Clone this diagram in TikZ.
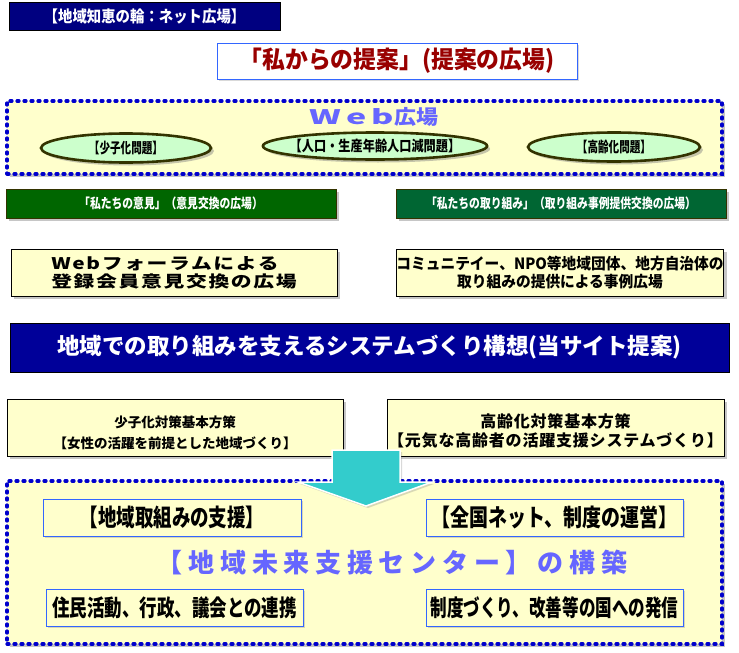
\documentclass[tikz,border=0pt]{standalone}
\usepackage{fontspec}
\usepackage{graphicx}
\setmainfont{Noto Sans CJK JP}
\usetikzlibrary{shapes.geometric,shadows}
\definecolor{navyA}{RGB}{0,0,128}
\definecolor{navyB}{RGB}{0,0,153}
\definecolor{paleyel}{RGB}{255,255,204}
\definecolor{palegrn}{RGB}{204,255,204}
\definecolor{darkolive}{RGB}{51,51,0}
\definecolor{grnA}{RGB}{0,102,0}
\definecolor{grnB}{RGB}{0,102,51}
\definecolor{dashblue}{RGB}{0,0,204}
\definecolor{lineblue}{RGB}{51,102,255}
\definecolor{periw}{RGB}{102,102,255}
\definecolor{darkred}{RGB}{153,0,0}
\definecolor{arrowcyan}{RGB}{51,204,204}
\newcommand\jpfs[2]{\bfseries\fontsize{#1}{#2}\selectfont}
\newcommand\cond[2][0.82]{\scalebox{#1}[1]{#2}}
\begin{document}
\begin{tikzpicture}[x=1pt,y=-1pt,
  every node/.style={inner sep=0pt,outer sep=0pt},
  boxshadow/.style={drop shadow={opacity=.45,shadow xshift=3pt,shadow yshift=-3pt}},
  navybox/.style={draw=black,text=white},
  propbox/.style={draw=lineblue,fill=white,text=darkred,drop shadow={opacity=.3,shadow xshift=1.5pt,shadow yshift=-1.5pt}},
  dotbox/.style={draw=dashblue,fill=paleyel,line width=3.2pt,line cap=round,dash pattern=on 2pt off 5pt,boxshadow},
  oval/.style={ellipse,draw=darkolive,fill=palegrn,line width=2.6pt,boxshadow,font=\jpfs{14.5}{16}},
  grnbox/.style={draw=darkolive,text=white,minimum width=330,minimum height=29,boxshadow,font=\jpfs{13.5}{15}},
  yelbox/.style={draw=black,fill=paleyel,boxshadow},
  bluebox/.style={draw=lineblue,fill=paleyel,line width=1pt,minimum height=37,drop shadow={opacity=.3,shadow xshift=2pt,shadow yshift=-2pt}}]
\useasboundingbox (0,0) rectangle (739,653);

% top titles
\node[navybox,fill=navyA,minimum width=271,minimum height=28,font=\jpfs{16}{18}] (title) at (144.5,16) {\cond[0.9]{【地域知恵の輪：ネット広場】}};
\node[propbox,minimum width=360,minimum height=36,font=\jpfs{24}{26}] (teian) at (397,61) {\cond[0.95]{「私からの提案」(提案の広場)}};

% web hiroba
\node[dotbox,minimum width=715,minimum height=73] (web) at (364.5,137.5) {};
\node[text=periw,font=\jpfs{20}{24}] (webttl) at (374,117) {\cond[1.7]{{\addfontfeature{LetterSpace=15}Web}}\cond[1.1]{広場}};
\node[oval,minimum width=170,minimum height=29] (shoshi) at (126,148) {\cond[0.73]{【少子化問題】}};
\node[oval,minimum width=207,minimum height=27,inner xsep=-6pt] (jinko) at (375,146) {\cond[0.84]{【人口・生産年齢人口減問題】}};
\node[oval,minimum width=172,minimum height=29] (korei) at (614,147) {\cond[0.73]{【高齢化問題】}};

% green bars
\node[grnbox,fill=grnA] (iken) at (171,203.5) {\cond[0.8]{「私たちの意見」（意見交換の広場）}};
\node[grnbox,fill=grnB] (torikumi) at (561,203.5) {\cond[0.8]{「私たちの取り組み」（取り組み事例提供交換の広場）}};

\node[yelbox,minimum width=326,minimum height=47,align=left,font=\jpfs{16}{18}\addfontfeature{LetterSpace=8}] (forum) at (174,272.5) {\cond[1.3]{Webフォーラムによる}\\\cond[1.3]{登録会員意見交換の広場}};
\node[yelbox,minimum width=326,minimum height=47,align=center,font=\jpfs{15.5}{18}] (jirei) at (560,272.5) {\cond[0.95]{コミュニテイー、NPO等地域団体、地方自治体の}\\\cond[0.95]{取り組みの提供による事例広場}};

\node[navybox,fill=navyB,minimum width=719,minimum height=49,font=\jpfs{22.5}{26}] (koso) at (369.5,347.5) {地域での取り組みを支えるシステムづくり構想(当サイト提案)};

\node[yelbox,minimum width=336,minimum height=57,align=center,text height=44pt,font=\jpfs{13.5}{21}] (shoshiTaisaku) at (175,427.5) {少子化対策基本方策\\【女性の活躍を前提とした地域づくり】};
\node[yelbox,minimum width=337,minimum height=57,align=center,text height=39pt,font=\jpfs{16}{19}\addfontfeature{LetterSpace=5}] (koreiTaisaku) at (555.5,427.5) {高齢化対策基本方策\\【元気な高齢者の活躍支援システムづくり】};

% center
\node[dotbox,minimum width=715,minimum height=163] (center) at (364.5,562.5) {};
\node[bluebox,minimum width=258,font=\jpfs{24}{26}] (shien) at (172,517.5) {\cond[0.77]{【地域取組みの支援】}};
\node[bluebox,minimum width=257,font=\jpfs{24}{26}] (unei) at (554.5,517.5) {\cond[0.79]{【全国ネット、制度の運営】}};
\node[bluebox,minimum width=257,font=\jpfs{23}{26}] (renkei) at (174.5,607.5) {\cond[0.76]{住民活動、行政、議会との連携}};
\node[bluebox,minimum width=257,font=\jpfs{23}{26}] (hasshin) at (554.5,607.5) {\cond[0.72]{制度づくり、改善等の国への発信}};
\node[text=periw,font=\jpfs{26}{30}\addfontfeature{LetterSpace=22}] (centerttl) at (392,563) {【地域未来支援センター】の構築};

\filldraw[fill=arrowcyan,draw=white,line width=1.5pt,drop shadow={opacity=.3,shadow xshift=2pt,shadow yshift=-2pt}] (332,450) -- (400,450) -- (400,482) -- (432,482) -- (366,506) -- (298,482) -- (332,482) -- cycle;
\end{tikzpicture}
\end{document}
